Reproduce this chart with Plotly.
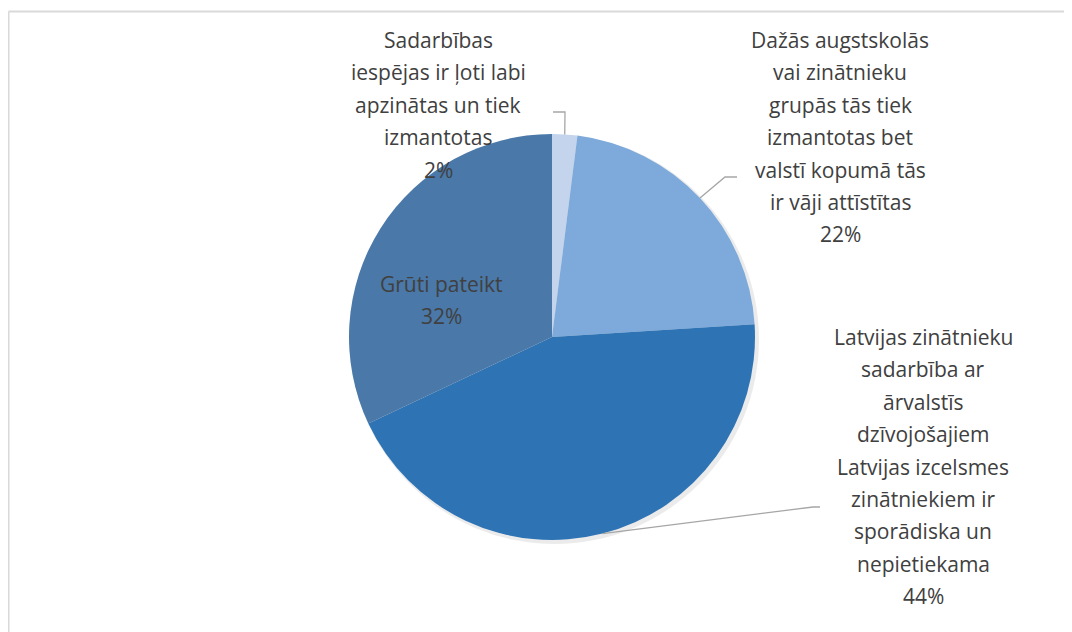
import math
import plotly.graph_objects as go

# ---- data ----
categories = [
    "Sadarbības iespējas ir ļoti labi apzinātas un tiek izmantotas",
    "Dažās augstskolās vai zinātnieku grupās tās tiek izmantotas bet valstī kopumā tās ir vāji attīstītas",
    "Latvijas zinātnieku sadarbība ar ārvalstīs dzīvojošajiem Latvijas izcelsmes zinātniekiem ir sporādiska un nepietiekama",
    "Grūti pateikt",
]
values = [2, 22, 44, 32]
label_lines = [
    ["Sadarbības", "iespējas ir ļoti labi", "apzinātas un tiek", "izmantotas"],
    ["Dažās augstskolās", "vai zinātnieku", "grupās tās tiek", "izmantotas bet",
     "valstī kopumā tās", "ir vāji attīstītas"],
    ["Latvijas zinātnieku", "sadarbība ar", "ārvalstīs", "dzīvojošajiem",
     "Latvijas izcelsmes", "zinātniekiem ir", "sporādiska un", "nepietiekama"],
    ["Grūti pateikt"],
]
colors = ["#c3d4ec", "#7eaadb", "#2e74b5", "#4a78a8"]

# ---- layout constants (window pixels; page body has an 8px margin) ----
OFF = 8
W, H = 1072 - OFF, 632 - OFF
CX, CY, R = 552, 337, 203
FONT = "Open Sans"
FS = 21
TXT = "#404040"
LINE_H = 32.4

def px(x):
    return (x - OFF) / W

def py(y):
    return 1 - (y - OFF) / H

fig = go.Figure()

# soft shadow
fig.add_trace(go.Pie(
    values=[1], marker=dict(colors=["rgba(0,0,0,0.08)"], line=dict(width=0)),
    textinfo="none", hoverinfo="skip", showlegend=False,
    domain=dict(x=[px(CX - R + 1), px(CX + R + 4)], y=[py(CY + R + 5), py(CY - R)]),
))

fig.add_trace(go.Pie(
    labels=categories, values=values, sort=False, direction="clockwise", rotation=0,
    marker=dict(colors=colors, line=dict(width=0)),
    textinfo="none", showlegend=False,
    domain=dict(x=[px(CX - R), px(CX + R)], y=[py(CY + R), py(CY - R)]),
))

total = sum(values)
pct = [f"{round(v / total * 100)}%" for v in values]

# label blocks: centre x, first line y (window pixels)
blocks = [(438, 40), (840, 40), (923, 337), (441, 284)]
annotations = []
for i, (bx, by) in enumerate(blocks):
    lines = label_lines[i] + [pct[i]]
    for j, t in enumerate(lines):
        annotations.append(dict(
            x=px(bx), y=py(by + j * LINE_H), xref="paper", yref="paper",
            text=t, showarrow=False, xanchor="center", yanchor="middle",
            font=dict(family=FONT, size=FS, color=TXT),
        ))

# leader lines: start at slice mid-angle on the rim
shapes = []
cum = 0
mids = []
for v in values:
    mids.append((cum + v / 2) / total * 2 * math.pi)
    cum += v

elbows = {0: [(565, 112), (553, 112)], 1: [(725, 177), (737, 177)], 2: [(813, 507), (820, 507)]}
for i, pts in elbows.items():
    sx = CX + R * math.sin(mids[i])
    sy = CY - R * math.cos(mids[i])
    path_pts = [(sx, sy)] + pts
    d = "M " + " L ".join(f"{px(x)},{py(y)}" for x, y in path_pts)
    shapes.append(dict(type="path", path=d, xref="paper", yref="paper",
                       line=dict(color="#a6a6a6", width=1.3)))

# chart border: only the left and top edges are in view
shapes.append(dict(type="line", xref="paper", yref="paper",
                   x0=px(8.5), x1=px(8.5), y0=0, y1=py(11.5),
                   line=dict(color="#d9d9d9", width=2)))
shapes.append(dict(type="line", xref="paper", yref="paper",
                   x0=px(8.5), x1=1, y0=py(11.5), y1=py(11.5),
                   line=dict(color="#d9d9d9", width=2)))

fig.update_layout(
    width=W, height=H, margin=dict(l=0, r=0, t=0, b=0),
    paper_bgcolor="white", plot_bgcolor="white",
    annotations=annotations, shapes=shapes,
)

fig.write_html(
    "out.html",
    post_script="document.documentElement.style.overflow='hidden';document.body.style.overflow='hidden';",
)
